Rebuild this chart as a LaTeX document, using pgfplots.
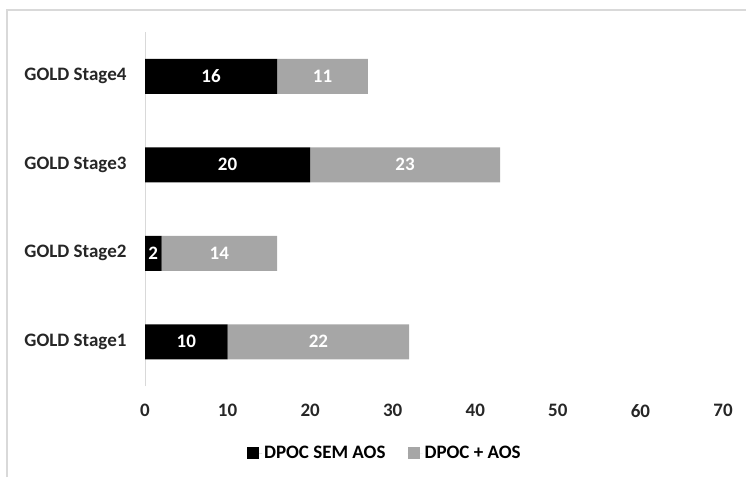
\documentclass[border=0pt]{standalone}
\usepackage{pgfplots}
\pgfplotsset{compat=1.18}
\usepackage{fontspec}
\setmainfont{Carlito}
\definecolor{semaos}{HTML}{000000}
\definecolor{comaos}{HTML}{A6A6A6}
\definecolor{framegray}{HTML}{D9D9D9}
\newcommand{\lblfont}{\bfseries\fontsize{19}{22}\selectfont}
\begin{document}
\begin{tikzpicture}[x=1pt,y=1pt]
\path[use as bounding box] (0,0) rectangle (746,477);
\draw[framegray, line width=1.2pt] (7,0) -- (7,467) -- (746,467);
\begin{axis}[
  at={(145pt,91pt)}, anchor=south west,
  scale only axis, width=578pt, height=354pt,
  xbar stacked, bar width=35pt,
  xmin=0, xmax=70, ymin=-0.5, ymax=3.5,
  xtick={0,10,...,70}, ytick={0,1,2,3},
  yticklabels={GOLD Stage1,GOLD Stage2,GOLD Stage3,GOLD Stage4},
  axis lines*=left,
  x axis line style={draw=none},
  y axis line style={draw=framegray},
  major tick length=0pt,
  tick label style={font=\lblfont, text=black!85},
  /pgf/number format/assume math mode=true,
  xticklabel style={yshift=-15pt},
  yticklabel style={xshift=-15pt},
  nodes near coords,
  every node near coord/.append style={text=white, anchor=center, font=\lblfont},
  legend columns=2,
  legend style={at={(0.415,-0.19)}, anchor=center, draw=none, font=\lblfont,
     /tikz/every even column/.append style={column sep=20pt}},
  legend image code/.code={\fill[#1] (0pt,-6pt) rectangle (12pt,6pt);
     \path (0pt,0pt) -- (15pt,0pt);},
]
\addplot[fill=semaos, draw=none] coordinates {(10,0) (2,1) (20,2) (16,3)};
\addplot[fill=comaos, draw=none] coordinates {(22,0) (14,1) (23,2) (11,3)};
\legend{DPOC SEM AOS, DPOC + AOS}
\end{axis}
\end{tikzpicture}
\end{document}
